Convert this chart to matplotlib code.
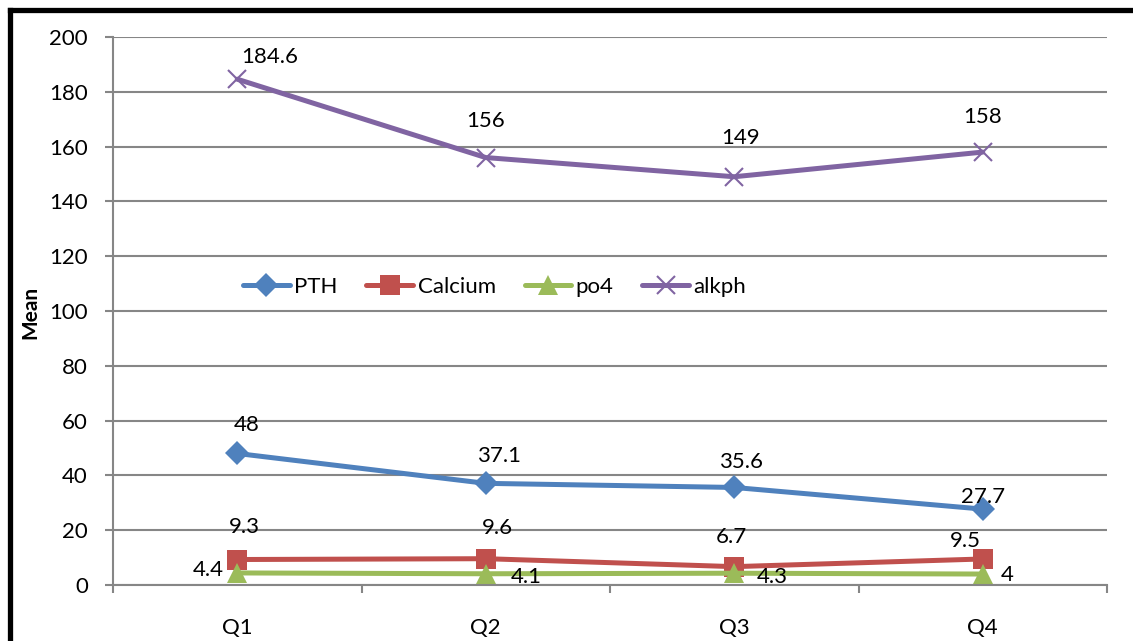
import matplotlib; matplotlib.use("Agg")
import matplotlib.pyplot as plt
from matplotlib.lines import Line2D

quarters = ["Q1", "Q2", "Q3", "Q4"]
pth = [48, 37.1, 35.6, 27.7]
calcium = [9.3, 9.6, 6.7, 9.5]
po4 = [4.4, 4.1, 4.3, 4]
alkph = [184.6, 156, 149, 158]

# label offsets in pixels (dx, dy) from each point, as seen in the original
off_pth = [(9, 28), (13, 27), (7, 25), (0, 12)]
off_ca = [(7, 33), (12, 31), (-3, 30), (-17, 18)]
off_po4 = [(-29, 3), (41, -3), (38, -4), (24, -1)]
off_alk = [(32, 22), (0, 37), (6, 39), (0, 35)]

plt.rcParams["font.family"] = ["Lato", "DejaVu Sans"]
fig = plt.figure(figsize=(11.33, 6.41), dpi=100)
ax = fig.add_axes([113/1133, 1-585/641, 994/1133, 548/641])

x = range(len(quarters))
series = [
    ("PTH", pth, "#4F81BD", "D", 12, off_pth),
    ("Calcium", calcium, "#C0504D", "s", 14, off_ca),
    ("po4", po4, "#9BBB59", "^", 15, off_po4),
    ("alkph", alkph, "#8064A2", "x", 13, off_alk),
]
for name, vals, col, mk, ms, offs in series:
    kw = dict(markeredgewidth=1.5) if mk == "x" else dict(markeredgewidth=0)
    ax.plot(x, vals, color=col, lw=3.6, marker=mk, ms=ms, label=name,
            solid_capstyle="round", **kw)
    for xi, v, (dx, dy) in zip(x, vals, offs):
        ax.annotate(f"{v:g}", (xi, v), xytext=(dx*0.72, dy*0.72),
                    textcoords="offset points", ha="center", va="center",
                    fontsize=16, color="black")

ax.set_xlim(-0.5, 3.5)
ax.set_ylim(0, 200)
ax.set_yticks(range(0, 201, 20))
ax.yaxis.grid(True, color="#868686", lw=1.5)
ax.set_axisbelow(True)
ax.set_xticks([-0.5, 0.5, 1.5, 2.5, 3.5])
ax.set_xticklabels([])
ax.set_xticks(list(x), minor=True)
ax.set_xticklabels(quarters, minor=True)
ax.tick_params(axis="x", which="major", length=6, width=1.5, color="#868686")
ax.tick_params(axis="x", which="minor", length=0, pad=24, labelsize=16)
ax.tick_params(axis="y", length=6, width=1.5, color="#868686", pad=12, labelsize=16)
for s in ["top", "right"]:
    ax.spines[s].set_visible(False)
for s in ["left", "bottom"]:
    ax.spines[s].set_color("#868686")
    ax.spines[s].set_linewidth(1.5)

fig.text(30/1133, 1-312/641, "Mean", rotation=90, fontsize=15, fontweight="bold",
         ha="center", va="center")

ax.legend(loc="center", bbox_to_anchor=(0.384, 0.544), ncol=4, frameon=False,
          fontsize=16, handlelength=2.1, handletextpad=0.2, columnspacing=1.3)

# outer frame (only left and top edges visible in the crop)
fig.add_artist(Line2D([10/1133, 10/1133], [0, 1-10/641], color="black", lw=3.8,
                      transform=fig.transFigure, solid_capstyle="projecting"))
fig.add_artist(Line2D([10/1133, 1], [1-10/641, 1-10/641], color="black", lw=3.8,
                      transform=fig.transFigure, solid_capstyle="projecting"))

fig.savefig("out.png", dpi=100)
